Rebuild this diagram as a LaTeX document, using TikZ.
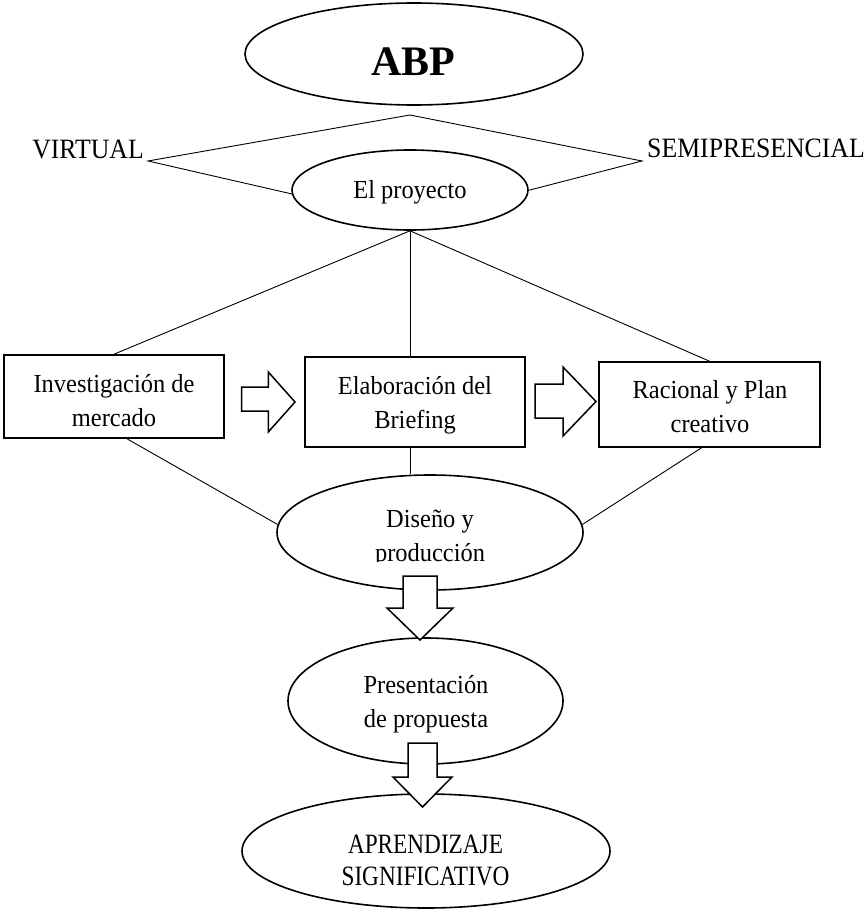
\documentclass[tikz,border=0pt]{standalone}
\usepackage{fontspec}
\setmainfont{Liberation Serif}
\newfontfamily\condA[FakeStretch=0.83]{Liberation Serif}
\newfontfamily\condB[FakeStretch=0.92]{Liberation Serif}
\newfontfamily\bodyfont[FakeStretch=0.94]{Liberation Serif}
\usetikzlibrary{shapes.geometric,backgrounds}
\begin{document}
\begin{tikzpicture}[x=1pt,y=-1pt,
  shapeline/.style={draw=black,line width=1.6pt,fill=white},
  oval/.style={shapeline,ellipse,inner sep=0pt},
  stepbox/.style={shapeline,rectangle,inner sep=0pt},
  linkline/.style={draw=black,line width=0.9pt},
  blockarrow/.style={draw=black,line width=1.5pt,fill=white,line join=miter},
  bodytext/.style={align=center,inner sep=0pt,font=\bodyfont\fontsize{26}{34}\selectfont},
  onetext/.style={inner sep=0pt,anchor=base,font=\bodyfont\fontsize{26}{34}\selectfont},
  captext/.style={inner sep=0pt,anchor=base,font=\condB\fontsize{28}{32}\selectfont}
]
\useasboundingbox (0,0) rectangle (866,910);

% ---- nodes ----
\node[oval,minimum width=338pt,minimum height=102pt] (abp) at (414,54) {};
\node[inner sep=0pt,anchor=base,font=\fontsize{42}{50}\selectfont\bfseries] (abptxt) at (413,75) {ABP};

\node[captext] (virtual) at (88,158) {VIRTUAL};
\node[captext] (semi) at (756,157) {SEMIPRESENCIAL};

\node[oval,minimum width=236pt,minimum height=80pt] (proj) at (410,190) {};
\node[onetext] (projtxt) at (410,198) {El proyecto};

\node[stepbox,minimum width=220pt,minimum height=83pt] (box1) at (114,396.5) {};
\node[bodytext] (box1txt) at (114,401) {Investigación de\\mercado};
\node[stepbox,minimum width=220pt,minimum height=90pt] (box2) at (415,402) {};
\node[bodytext] (box2txt) at (415,405) {Elaboración del\\Briefing};
\node[stepbox,minimum width=221pt,minimum height=85pt] (box3) at (709.5,404.5) {};
\node[bodytext] (box3txt) at (710,407) {Racional y Plan\\creativo};

\node[oval,minimum width=306pt,minimum height=115pt] (diseno) at (430,532.5) {};
\begin{scope}
  \clip (277,470) rectangle (583,561.5);
  \node[bodytext] (disenotxt) at (430,539) {Diseño y\\producción};
\end{scope}

\node[oval,minimum width=275pt,minimum height=126pt] (pres) at (425.5,701) {};
\node[bodytext] (prestxt) at (426,704) {Presentación\\de propuesta};

\node[oval,minimum width=368pt,minimum height=114pt] (aprend) at (426,851) {};
\node[align=center,inner sep=0pt,font=\condA\fontsize{28}{32}\selectfont] (aprendtxt) at (425.5,860) {APRENDIZAJE\\SIGNIFICATIVO};

% ---- connectors behind the shapes ----
\begin{pgfonlayer}{background}
  \coordinate (dleft) at (148,161);
  \coordinate (dtop) at (410,115);
  \coordinate (dright) at (642,161);
  \coordinate (dbot) at (410,221);
  \draw[linkline] (dleft) -- (dtop) -- (dright) -- (dbot) -- cycle;
  \draw[linkline] (proj.south) -- (box1.north);
  \draw[linkline] (proj.south) -- (proj.south |- box2.north);
  \draw[linkline] (proj.south) -- (box3.north);
  \draw[linkline] ([xshift=13pt]box1.south) -- (diseno.177);
  \draw[linkline] (proj.south |- box2.south) -- (proj.south |- diseno.north);
  \draw[linkline] ([xshift=-8pt]box3.south) -- (diseno.3);
\end{pgfonlayer}

% ---- hollow block arrows ----
\draw[blockarrow] (241.7,387) -- (268.3,387) -- (268.3,372) -- (295,402)
  -- (268.3,432) -- (268.3,411) -- (241.7,411) -- cycle;
\draw[blockarrow] (535,384) -- (563,384) -- (563,367) -- (596,401.5)
  -- (563,436) -- (563,418) -- (535,418) -- cycle;
\draw[blockarrow] (403,576) -- (437,576) -- (437,608) -- (453,608)
  -- (420,640) -- (387,608) -- (403,608) -- cycle;
\draw[blockarrow] (408,743) -- (437,743) -- (437,777) -- (452,777)
  -- (422.5,807) -- (393,777) -- (408,777) -- cycle;
\end{tikzpicture}
\end{document}
